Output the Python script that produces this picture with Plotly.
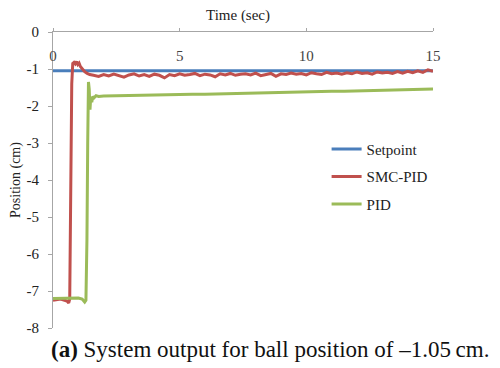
import plotly.graph_objects as go

# Setpoint
t_set = [0, 15]
y_set = [-1.05, -1.05]

# SMC-PID response: start-up and transient
t_smc_head = [0, 0.3, 0.55, 0.62, 0.66, 0.70, 0.74, 0.78, 0.83, 0.88, 0.93, 0.98, 1.03, 1.08, 1.15, 1.25, 1.35, 1.45]
y_smc_head = [-7.25, -7.22, -7.27, -7.32, -7.22, -4.6, -1.4, -0.85, -0.82, -0.86, -0.80, -0.88, -0.84, -0.93, -1.0, -1.07, -1.12, -1.15]
# SMC-PID steady state samples (every 0.2 s from 1.6 s)
t_smc_tail = [round(1.6 + 0.2 * i, 2) for i in range(68)]
y_smc_tail = [
    -1.17, -1.20, -1.15, -1.19, -1.14, -1.18, -1.22, -1.16, -1.13, -1.19,
    -1.15, -1.20, -1.14, -1.17, -1.24, -1.15, -1.18, -1.13, -1.17, -1.15,
    -1.12, -1.18, -1.14, -1.16, -1.21, -1.13, -1.16, -1.12, -1.17, -1.14,
    -1.13, -1.16, -1.11, -1.18, -1.14, -1.12, -1.20, -1.13, -1.15, -1.11,
    -1.14, -1.12, -1.16, -1.10, -1.13, -1.15, -1.09, -1.13, -1.11, -1.14,
    -1.10, -1.13, -1.08, -1.12, -1.10, -1.14, -1.08, -1.11, -1.09, -1.12,
    -1.07, -1.11, -1.06, -1.10, -1.05, -1.09, -1.02, -1.06,
]

# PID response: start-up and transient
t_pid_head = [0, 0.5, 1.0, 1.15, 1.25, 1.30, 1.34, 1.37, 1.40, 1.43, 1.46, 1.49, 1.53, 1.57, 1.62, 1.70, 1.80]
y_pid_head = [-7.2, -7.2, -7.19, -7.22, -7.3, -7.25, -5.6, -3.0, -1.35, -1.55, -2.1, -1.75, -1.9, -1.74, -1.78, -1.72, -1.74]
# PID steady state samples (every 0.5 s from 2 s)
t_pid_tail = [2 + 0.5 * i for i in range(27)]
y_pid_tail = [
    -1.73, -1.72, -1.72, -1.71, -1.70, -1.70, -1.69, -1.68, -1.68, -1.67,
    -1.66, -1.66, -1.65, -1.64, -1.63, -1.63, -1.62, -1.61, -1.60, -1.60,
    -1.59, -1.58, -1.57, -1.57, -1.56, -1.55, -1.54,
]

x_ticks = [0, 5, 10, 15]
y_ticks = [0, -1, -2, -3, -4, -5, -6, -7, -8]
y_tick_text = ["0", "-1", "-2", "-3", "-4", "-5", "-6", "-7", "-8"]

FONT = "Liberation Serif, Times New Roman, serif"

fig = go.Figure()
fig.add_trace(go.Scatter(x=t_set, y=y_set, mode="lines", name="Setpoint",
                         line=dict(color="#4a7ebb", width=3), legendgroup="a"))
fig.add_trace(go.Scatter(x=t_smc_head + t_smc_tail, y=y_smc_head + y_smc_tail,
                         mode="lines", name="SMC-PID",
                         line=dict(color="#c0504d", width=3), legendgroup="b"))
fig.add_trace(go.Scatter(x=t_pid_head + t_pid_tail, y=y_pid_head + y_pid_tail,
                         mode="lines", name="PID",
                         line=dict(color="#9bbb59", width=3), legendgroup="c"))

fig.update_layout(
    width=500, height=368,
    margin=dict(l=53, r=67, t=32, b=40),
    paper_bgcolor="white", plot_bgcolor="white",
    font=dict(family=FONT, size=15, color="#222"),
    showlegend=True,
    legend=dict(x=0.72, y=0.66, xanchor="left", yanchor="top",
                bgcolor="rgba(0,0,0,0)", tracegroupgap=5,
                font=dict(family=FONT, size=15)),
    xaxis=dict(side="top", range=[0, 15], tickvals=x_ticks,
               ticklabelposition="inside", ticklabeloverflow="allow",
               ticklabelstandoff=18,
               ticks="outside", ticklen=3,
               tickcolor="#a6a6a6", showline=True, linecolor="#a6a6a6",
               showgrid=False, zeroline=False,
               tickfont=dict(family=FONT, size=15)),
    yaxis=dict(range=[-8, 0], tickvals=y_ticks, ticktext=y_tick_text,
               ticks="outside", ticklen=4, tickcolor="#a6a6a6",
               ticklabelstandoff=6, ticklabeloverflow="allow",
               showline=True, linecolor="#a6a6a6", showgrid=False,
               zeroline=False,
               tickfont=dict(family=FONT, size=15),
               title=dict(text="Position (cm)", font=dict(family=FONT, size=14), standoff=2)),
)

# x-axis title sits above the top axis line
fig.add_annotation(text="Time (sec)", xref="paper", yref="paper",
                   x=0.487, y=1, yshift=6, xanchor="center", yanchor="bottom",
                   showarrow=False, font=dict(family=FONT, size=15, color="#222"))

fig.add_annotation(text="<b>(a)</b> System output for ball position of \u20131.05\u2009cm.",
                   xref="paper", yref="paper", x=0.571, y=-0.025,
                   xanchor="center", yanchor="top", showarrow=False,
                   font=dict(family=FONT, size=23, color="#111"))

fig.write_html("out.html")
